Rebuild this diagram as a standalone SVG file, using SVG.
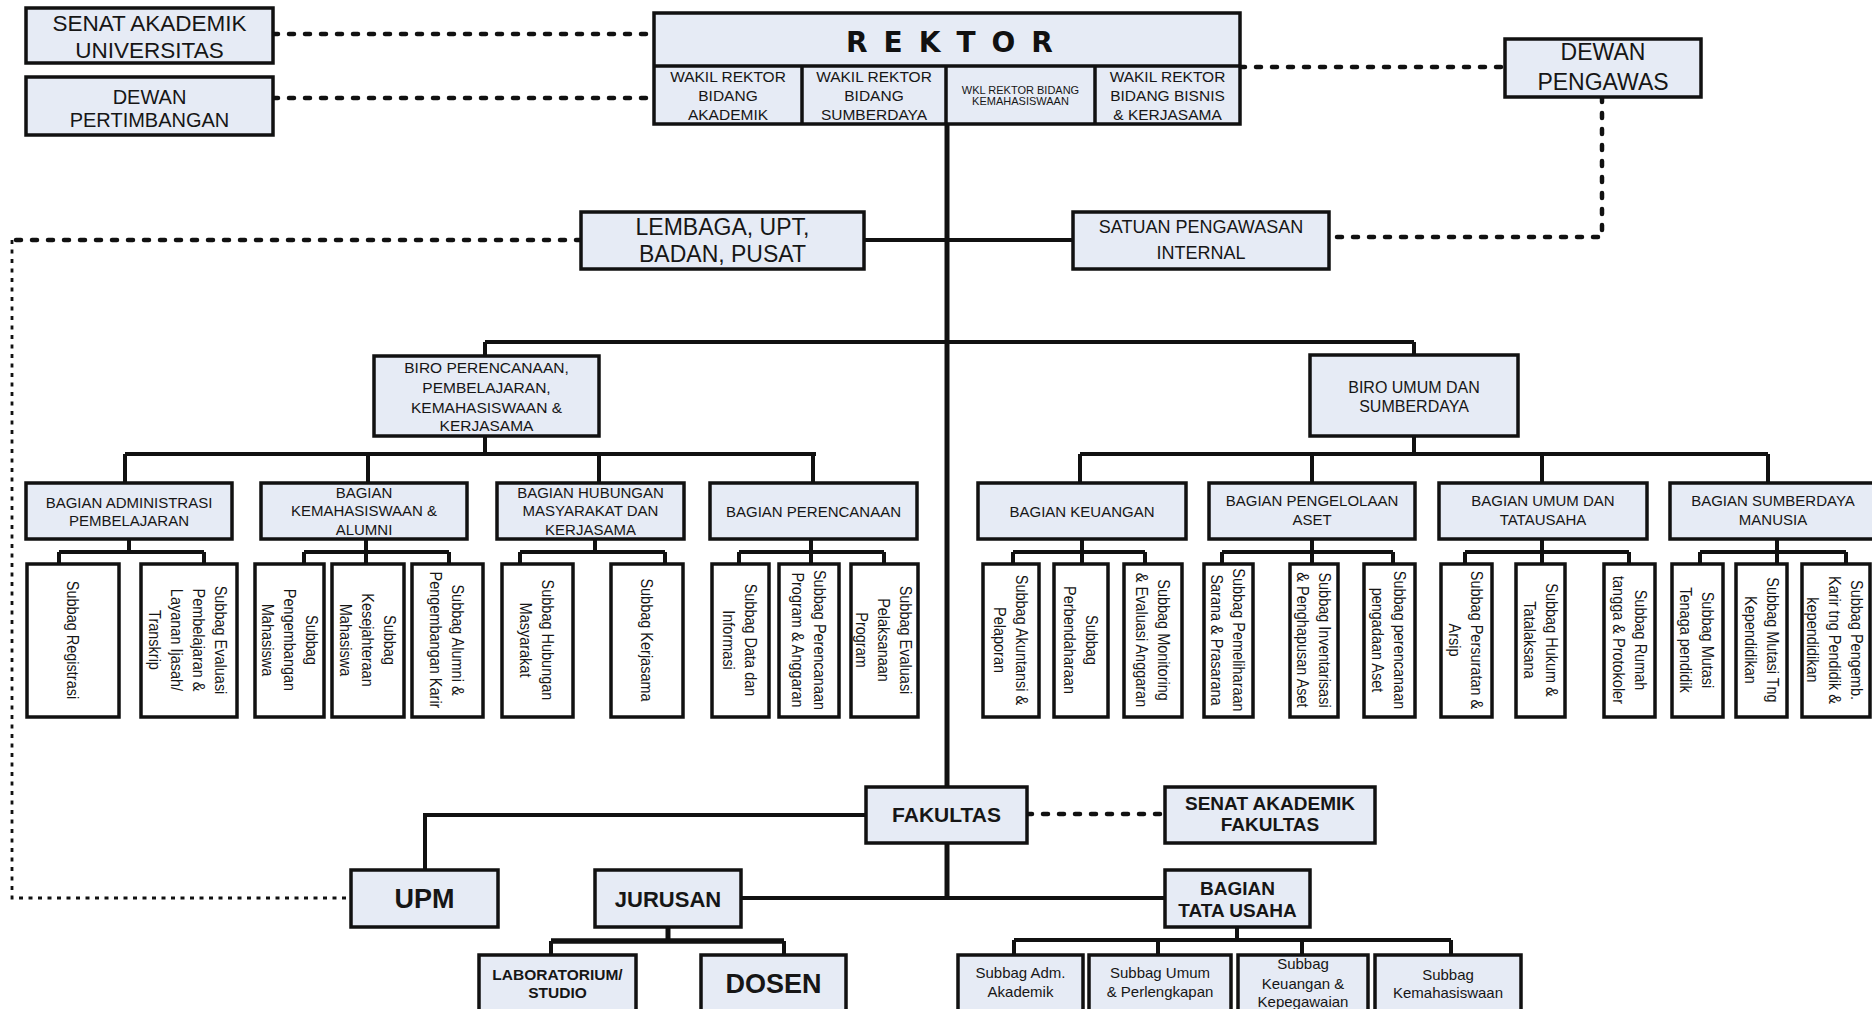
<svg xmlns="http://www.w3.org/2000/svg" width="1872" height="1009" viewBox="0 0 1872 1009">
<style>
.box{fill:#E6EBF5;stroke:#111;stroke-width:3.5}
.wb{fill:#FFFFFF;stroke:#111;stroke-width:3.5}
.div{stroke:#111;stroke-width:3.5;fill:none}
.ln{stroke:#111;stroke-width:4;fill:none}
.trunk{stroke:#111;stroke-width:5;fill:none}
.dash{stroke:#111;stroke-width:4.5;stroke-dasharray:5 11;stroke-linecap:round;fill:none}
.dthin{stroke:#111;stroke-width:2.8;stroke-dasharray:4 5.5;stroke-linecap:butt;fill:none}
text{font-family:"Liberation Sans",Arial,sans-serif;fill:#161616;text-anchor:middle}
.b{font-weight:bold}
.v{font-size:14.5px}
.bg{font-size:15px}
</style>

<g id="connectors">
  <path class="dash" d="M273 34 H654"/>
  <path class="dash" d="M273 98 H654"/>
  <path class="dash" d="M1240 67 H1505"/>
  <path class="dash" d="M1602 97 V237 H1329"/>
  <path class="dash" d="M581 240 H12"/>
  <path class="dthin" d="M12 240 V898 H351"/>
  <path class="dash" d="M1027 814 H1165"/>
  <path class="trunk" d="M947 124 V787 M947 843 V898"/>
  <path class="ln" d="M864 240 H1073"/>
  <path class="ln" d="M485 342 H1414 M485 342 V356 M1414 342 V355"/>
  <path class="ln" d="M485 436 V454 M125 454 H816 M125 454 V483 M368 454 V483 M599 454 V483 M813 454 V483"/>
  <path class="ln" d="M1414 436 V454 M1080 454 H1768 M1080 454 V483 M1312 454 V483 M1542 454 V483 M1768 454 V483"/>
  <path class="ln" d="M129 539 V552 M59 552 H204 M59 552 V564 M204 552 V564"/>
  <path class="ln" d="M366 539 V564 M304 552 H449 M304 552 V564 M449 552 V564"/>
  <path class="ln" d="M595 539 V552 M520 552 H665 M520 552 V564 M665 552 V564"/>
  <path class="ln" d="M811 539 V564 M739 552 H884 M739 552 V564 M884 552 V564"/>
  <path class="ln" d="M1082 539 V564 M1013 552 H1145 M1013 552 V564 M1145 552 V564"/>
  <path class="ln" d="M1312 539 V564 M1222 552 H1393 M1222 552 V564 M1393 552 V564"/>
  <path class="ln" d="M1542 539 V564 M1465 552 H1629 M1465 552 V564 M1629 552 V564"/>
  <path class="ln" d="M1777 539 V564 M1700 552 H1846 M1700 552 V564 M1846 552 V564"/>
  <path class="ln" d="M866 815 H425 V870"/>
  <path class="ln" d="M741 898 H1165"/>
  <path class="ln" d="M668 927 V941" style="stroke-width:5"/>
  <path class="ln" d="M551 941 H784" style="stroke-width:5.5"/>
  <path class="ln" d="M551 941 V955 M784 941 V955"/>
  <path class="ln" d="M1237 927 V940 M1014 940 H1451 M1014 940 V955 M1158 940 V955 M1302 940 V955 M1451 940 V955"/>
</g>

<g id="senat-univ">
  <rect class="box" x="26" y="8" width="247" height="55"/>
  <text x="149.5" y="31" style="font-size:22.5px">SENAT AKADEMIK</text>
  <text x="149.5" y="58" style="font-size:22.5px">UNIVERSITAS</text>
</g>
<g id="dewan-pertimbangan">
  <rect class="box" x="26" y="77" width="247" height="58"/>
  <text x="149.5" y="104" style="font-size:20px">DEWAN</text>
  <text x="149.5" y="126.5" style="font-size:20px">PERTIMBANGAN</text>
</g>

<g id="rektor">
  <rect class="box" x="654" y="13" width="586" height="111"/>
  <path class="div" d="M654 66 H1240 M802 66 V124 M946 66 V124 M1095 66 V124"/>
  <text x="846" y="52" class="b" style="font-family:'DejaVu Sans',sans-serif;font-size:28px;letter-spacing:16px;text-anchor:start;fill:#111">REKTOR</text>
  <text x="728" y="82" style="font-size:15.5px">WAKIL REKTOR</text>
  <text x="728" y="101" style="font-size:15.5px">BIDANG</text>
  <text x="728" y="120" style="font-size:15.5px">AKADEMIK</text>
  <text x="874" y="82" style="font-size:15.5px">WAKIL REKTOR</text>
  <text x="874" y="101" style="font-size:15.5px">BIDANG</text>
  <text x="874" y="120" style="font-size:15.5px">SUMBERDAYA</text>
  <text x="1020.5" y="94" style="font-size:11px">WKL REKTOR BIDANG</text>
  <text x="1020.5" y="105" style="font-size:11px">KEMAHASISWAAN</text>
  <text x="1167.5" y="82" style="font-size:15.5px">WAKIL REKTOR</text>
  <text x="1167.5" y="101" style="font-size:15.5px">BIDANG BISNIS</text>
  <text x="1167.5" y="120" style="font-size:15.5px">&amp; KERJASAMA</text>
</g>

<g id="dewan-pengawas">
  <rect class="box" x="1505" y="39" width="196" height="58"/>
  <text x="1603" y="60" style="font-size:23px">DEWAN</text>
  <text x="1603" y="90" style="font-size:23px">PENGAWAS</text>
</g>

<g id="lembaga">
  <rect class="box" x="581" y="212" width="283" height="57"/>
  <text x="722.5" y="235" style="font-size:23px">LEMBAGA, UPT,</text>
  <text x="722.5" y="262" style="font-size:23px">BADAN, PUSAT</text>
</g>
<g id="spi">
  <rect class="box" x="1073" y="212" width="256" height="57"/>
  <text x="1201" y="233" style="font-size:18px">SATUAN PENGAWASAN</text>
  <text x="1201" y="259" style="font-size:18px">INTERNAL</text>
</g>

<g id="biro-perencanaan">
  <rect class="box" x="374" y="356" width="225" height="80"/>
  <text x="486.5" y="373" style="font-size:15.5px">BIRO PERENCANAAN,</text>
  <text x="486.5" y="393" style="font-size:15.5px">PEMBELAJARAN,</text>
  <text x="486.5" y="412.5" style="font-size:15.5px">KEMAHASISWAAN &amp;</text>
  <text x="486.5" y="431" style="font-size:15.5px">KERJASAMA</text>
</g>
<g id="biro-umum">
  <rect class="box" x="1310" y="355" width="208" height="81"/>
  <text x="1414" y="393" style="font-size:16px">BIRO UMUM DAN</text>
  <text x="1414" y="412" style="font-size:16px">SUMBERDAYA</text>
</g>

<g id="bagian-admin">
  <rect class="box" x="26" y="483" width="206" height="56"/>
  <text x="129" y="508" class="bg">BAGIAN ADMINISTRASI</text>
  <text x="129" y="526" class="bg">PEMBELAJARAN</text>
</g>
<g id="bagian-kemahasiswaan">
  <rect class="box" x="261" y="483" width="206" height="56"/>
  <text x="364" y="497.5" class="bg">BAGIAN</text>
  <text x="364" y="516" class="bg">KEMAHASISWAAN &amp;</text>
  <text x="364" y="534.5" class="bg">ALUMNI</text>
</g>
<g id="bagian-humas">
  <rect class="box" x="497" y="483" width="187" height="56"/>
  <text x="590.5" y="497.5" class="bg">BAGIAN HUBUNGAN</text>
  <text x="590.5" y="516" class="bg">MASYARAKAT DAN</text>
  <text x="590.5" y="534.5" class="bg">KERJASAMA</text>
</g>
<g id="bagian-perencanaan">
  <rect class="box" x="710" y="483" width="207" height="56"/>
  <text x="813.5" y="516.5" class="bg">BAGIAN PERENCANAAN</text>
</g>
<g id="bagian-keuangan">
  <rect class="box" x="978" y="483" width="208" height="56"/>
  <text x="1082" y="516.5" class="bg">BAGIAN KEUANGAN</text>
</g>
<g id="bagian-aset">
  <rect class="box" x="1209" y="483" width="206" height="56"/>
  <text x="1312" y="506" class="bg">BAGIAN PENGELOLAAN</text>
  <text x="1312" y="525" class="bg">ASET</text>
</g>
<g id="bagian-umum">
  <rect class="box" x="1439" y="483" width="208" height="56"/>
  <text x="1543" y="506" class="bg">BAGIAN UMUM DAN</text>
  <text x="1543" y="525" class="bg">TATAUSAHA</text>
</g>
<g id="bagian-sdm">
  <rect class="box" x="1670" y="483" width="206" height="56"/>
  <text x="1773" y="506" class="bg">BAGIAN SUMBERDAYA</text>
  <text x="1773" y="525" class="bg">MANUSIA</text>
</g>

<g id="subbag-registrasi">
  <rect class="wb" x="27" y="564" width="92" height="153"/>
  <text class="v" dy="5" transform="translate(73,640) rotate(90) scale(1,1.12)">Subbag Registrasi</text>
</g>
<g id="subbag-evaluasi-pembelajaran">
  <rect class="wb" x="141" y="564" width="96" height="153"/>
  <text class="v" dy="5" transform="translate(221,640) rotate(90) scale(1,1.12)">Subbag Evaluasi</text>
  <text class="v" dy="5" transform="translate(199,640) rotate(90) scale(1,1.12)">Pembelajaran &amp;</text>
  <text class="v" dy="5" transform="translate(177,640) rotate(90) scale(1,1.12)">Layanan Ijasah/</text>
  <text class="v" dy="5" transform="translate(155,640) rotate(90) scale(1,1.12)">Transkrip</text>
</g>
<g id="subbag-pengembangan-mhs">
  <rect class="wb" x="255" y="564" width="69" height="153"/>
  <text class="v" dy="5" transform="translate(312,640) rotate(90) scale(1,1.12)">Subbag</text>
  <text class="v" dy="5" transform="translate(290,640) rotate(90) scale(1,1.12)">Pengembangan</text>
  <text class="v" dy="5" transform="translate(268,640) rotate(90) scale(1,1.12)">Mahasiswa</text>
</g>
<g id="subbag-kesejahteraan">
  <rect class="wb" x="332" y="564" width="72" height="153"/>
  <text class="v" dy="5" transform="translate(390,640) rotate(90) scale(1,1.12)">Subbag</text>
  <text class="v" dy="5" transform="translate(368,640) rotate(90) scale(1,1.12)">Kesejahteraan</text>
  <text class="v" dy="5" transform="translate(346,640) rotate(90) scale(1,1.12)">Mahasiswa</text>
</g>
<g id="subbag-alumni">
  <rect class="wb" x="412" y="564" width="71" height="153"/>
  <text class="v" dy="5" transform="translate(458,640) rotate(90) scale(1,1.12)">Subbag Alumni &amp;</text>
  <text class="v" dy="5" transform="translate(436,640) rotate(90) scale(1,1.12)">Pengembangan Karir</text>
</g>
<g id="subbag-hubungan">
  <rect class="wb" x="502" y="564" width="71" height="153"/>
  <text class="v" dy="5" transform="translate(548,640) rotate(90) scale(1,1.12)">Subbag Hubungan</text>
  <text class="v" dy="5" transform="translate(526,640) rotate(90) scale(1,1.12)">Masyarakat</text>
</g>
<g id="subbag-kerjasama">
  <rect class="wb" x="611" y="564" width="72" height="153"/>
  <text class="v" dy="5" transform="translate(647,640) rotate(90) scale(1,1.12)">Subbag Kerjasama</text>
</g>
<g id="subbag-data">
  <rect class="wb" x="712" y="564" width="57" height="153"/>
  <text class="v" dy="5" transform="translate(751,640) rotate(90) scale(1,1.12)">Subbag Data dan</text>
  <text class="v" dy="5" transform="translate(729,640) rotate(90) scale(1,1.12)">Informasi</text>
</g>
<g id="subbag-perencanaan-program">
  <rect class="wb" x="779" y="564" width="60" height="153"/>
  <text class="v" dy="5" transform="translate(820,640) rotate(90) scale(1,1.12)">Subbag Perencanaan</text>
  <text class="v" dy="5" transform="translate(798,640) rotate(90) scale(1,1.12)">Program &amp; Anggaran</text>
</g>
<g id="subbag-evaluasi-program">
  <rect class="wb" x="851" y="564" width="67" height="153"/>
  <text class="v" dy="5" transform="translate(906,640) rotate(90) scale(1,1.12)">Subbag Evaluasi</text>
  <text class="v" dy="5" transform="translate(884,640) rotate(90) scale(1,1.12)">Pelaksanaan</text>
  <text class="v" dy="5" transform="translate(862,640) rotate(90) scale(1,1.12)">Program</text>
</g>
<g id="subbag-akuntansi">
  <rect class="wb" x="983" y="564" width="56" height="153"/>
  <text class="v" dy="5" transform="translate(1022,640) rotate(90) scale(1,1.12)">Subbag Akuntansi &amp;</text>
  <text class="v" dy="5" transform="translate(1000,640) rotate(90) scale(1,1.12)">Pelaporan</text>
</g>
<g id="subbag-perbendaharaan">
  <rect class="wb" x="1054" y="564" width="54" height="153"/>
  <text class="v" dy="5" transform="translate(1092,640) rotate(90) scale(1,1.12)">Subbag</text>
  <text class="v" dy="5" transform="translate(1070,640) rotate(90) scale(1,1.12)">Perbendaharaan</text>
</g>
<g id="subbag-monitoring">
  <rect class="wb" x="1124" y="564" width="58" height="153"/>
  <text class="v" dy="5" transform="translate(1164,640) rotate(90) scale(1,1.12)">Subbag Monitoring</text>
  <text class="v" dy="5" transform="translate(1142,640) rotate(90) scale(1,1.12)">&amp; Evaluasi Anggaran</text>
</g>
<g id="subbag-pemeliharaan">
  <rect class="wb" x="1204" y="564" width="49" height="153"/>
  <text class="v" dy="5" transform="translate(1239,640) rotate(90) scale(1,1.12)">Subbag Pemeliharaan</text>
  <text class="v" dy="5" transform="translate(1217,640) rotate(90) scale(1,1.12)">Sarana &amp; Prasarana</text>
</g>
<g id="subbag-inventarisasi">
  <rect class="wb" x="1290" y="564" width="48" height="153"/>
  <text class="v" dy="5" transform="translate(1325,640) rotate(90) scale(1,1.12)">Subbag Inventarisasi</text>
  <text class="v" dy="5" transform="translate(1303,640) rotate(90) scale(1,1.12)">&amp; Penghapusan Aset</text>
</g>
<g id="subbag-pengadaan">
  <rect class="wb" x="1364" y="564" width="51" height="153"/>
  <text class="v" dy="5" transform="translate(1400,640) rotate(90) scale(1,1.12)">Subbag perencanaan</text>
  <text class="v" dy="5" transform="translate(1378,640) rotate(90) scale(1,1.12)">pengadaan Aset</text>
</g>
<g id="subbag-persuratan">
  <rect class="wb" x="1441" y="564" width="51" height="153"/>
  <text class="v" dy="5" transform="translate(1477,640) rotate(90) scale(1,1.12)">Subbag Persuratan &amp;</text>
  <text class="v" dy="5" transform="translate(1455,640) rotate(90) scale(1,1.12)">Arsip</text>
</g>
<g id="subbag-hukum">
  <rect class="wb" x="1516" y="564" width="49" height="153"/>
  <text class="v" dy="5" transform="translate(1552,640) rotate(90) scale(1,1.12)">Subbag Hukum &amp;</text>
  <text class="v" dy="5" transform="translate(1530,640) rotate(90) scale(1,1.12)">Tatalaksana</text>
</g>
<g id="subbag-rumahtangga">
  <rect class="wb" x="1604" y="564" width="51" height="153"/>
  <text class="v" dy="5" transform="translate(1641,640) rotate(90) scale(1,1.12)">Subbag Rumah</text>
  <text class="v" dy="5" transform="translate(1619,640) rotate(90) scale(1,1.12)">tangga &amp; Protokoler</text>
</g>
<g id="subbag-mutasi-pendidik">
  <rect class="wb" x="1672" y="564" width="51" height="153"/>
  <text class="v" dy="5" transform="translate(1708,640) rotate(90) scale(1,1.12)">Subbag Mutasi</text>
  <text class="v" dy="5" transform="translate(1686,640) rotate(90) scale(1,1.12)">Tenaga pendidik</text>
</g>
<g id="subbag-mutasi-kependidikan">
  <rect class="wb" x="1736" y="564" width="51" height="153"/>
  <text class="v" dy="5" transform="translate(1773,640) rotate(90) scale(1,1.12)">Subbag Mutasi Tng</text>
  <text class="v" dy="5" transform="translate(1751,640) rotate(90) scale(1,1.12)">Kependidikan</text>
</g>
<g id="subbag-pengembangan-karir">
  <rect class="wb" x="1802" y="564" width="68" height="153"/>
  <text class="v" dy="5" transform="translate(1857,640) rotate(90) scale(1,1.12)">Subbag Pengemb.</text>
  <text class="v" dy="5" transform="translate(1835,640) rotate(90) scale(1,1.12)">Karir tng Pendidik &amp;</text>
  <text class="v" dy="5" transform="translate(1813,640) rotate(90) scale(1,1.12)">kependidikan</text>
</g>

<g id="fakultas">
  <rect class="box" x="866" y="787" width="161" height="56"/>
  <text x="946.5" y="822" class="b" style="font-size:21px">FAKULTAS</text>
</g>
<g id="senat-fakultas">
  <rect class="box" x="1165" y="787" width="210" height="56"/>
  <text x="1270" y="810" class="b" style="font-size:19px">SENAT AKADEMIK</text>
  <text x="1270" y="831" class="b" style="font-size:19px">FAKULTAS</text>
</g>
<g id="upm">
  <rect class="box" x="351" y="870" width="147" height="57"/>
  <text x="424.5" y="908" class="b" style="font-size:27px">UPM</text>
</g>
<g id="jurusan">
  <rect class="box" x="595" y="870" width="146" height="57"/>
  <text x="668" y="907" class="b" style="font-size:22px">JURUSAN</text>
</g>
<g id="bagian-tata-usaha">
  <rect class="box" x="1165" y="870" width="145" height="57"/>
  <text x="1237.5" y="895" class="b" style="font-size:19px">BAGIAN</text>
  <text x="1237.5" y="917" class="b" style="font-size:19px">TATA USAHA</text>
</g>
<g id="laboratorium">
  <rect class="box" x="479" y="955" width="157" height="70"/>
  <text x="557.5" y="980" class="b" style="font-size:15.5px">LABORATORIUM/</text>
  <text x="557.5" y="998" class="b" style="font-size:15.5px">STUDIO</text>
</g>
<g id="dosen">
  <rect class="box" x="701" y="955" width="145" height="70"/>
  <text x="773.5" y="993" class="b" style="font-size:27px">DOSEN</text>
</g>
<g id="subbag-adm-akademik">
  <rect class="box" x="958" y="955" width="125" height="70"/>
  <text x="1020.5" y="978" style="font-size:15px">Subbag Adm.</text>
  <text x="1020.5" y="997" style="font-size:15px">Akademik</text>
</g>
<g id="subbag-umum-perlengkapan">
  <rect class="box" x="1089" y="955" width="142" height="70"/>
  <text x="1160" y="978" style="font-size:15px">Subbag Umum</text>
  <text x="1160" y="997" style="font-size:15px">&amp; Perlengkapan</text>
</g>
<g id="subbag-keuangan-kepegawaian">
  <rect class="box" x="1238" y="955" width="130" height="70"/>
  <text x="1303" y="969" style="font-size:15px">Subbag</text>
  <text x="1303" y="989" style="font-size:15px">Keuangan &amp;</text>
  <text x="1303" y="1007" style="font-size:15px">Kepegawaian</text>
</g>
<g id="subbag-kemahasiswaan">
  <rect class="box" x="1375" y="955" width="146" height="70"/>
  <text x="1448" y="980" style="font-size:15px">Subbag</text>
  <text x="1448" y="998" style="font-size:15px">Kemahasiswaan</text>
</g>
</svg>
